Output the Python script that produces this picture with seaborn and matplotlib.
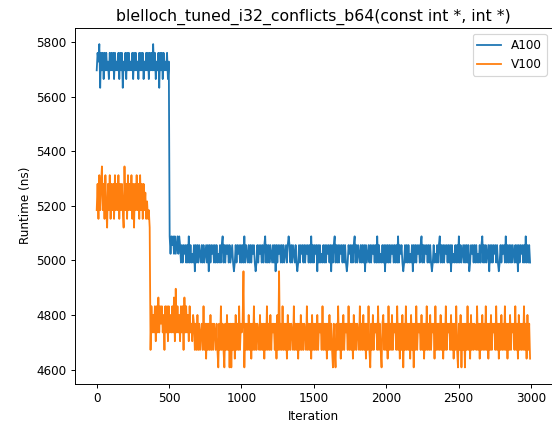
import numpy as np
import pandas as pd
import matplotlib
matplotlib.use("Agg")
import matplotlib.pyplot as plt
import seaborn as sns

title = "blelloch_tuned_i32_conflicts_b64(const int *, int *)"
series_names = ["A100", "V100"]
iterations = list(range(0, 3000, 6))

a100_high = [
    5696, 5760, 5728, 5792, 5632, 5760, 5696, 5760, 5664, 5760, 5696, 5760, 5696, 5728, 5664, 5760, 5696, 5760, 5696, 5760,
    5664, 5760, 5696, 5728, 5696, 5760, 5664, 5760, 5696, 5760, 5632, 5728, 5696, 5760, 5664, 5760, 5696, 5760, 5696, 5728,
    5696, 5760, 5664, 5760, 5696, 5760, 5696, 5728, 5664, 5760, 5696, 5760, 5696, 5760, 5664, 5728, 5696, 5760, 5696, 5760,
    5664, 5760, 5696, 5760, 5696, 5792, 5696, 5760, 5664, 5728, 5696, 5760, 5632, 5760, 5696, 5760, 5664, 5760, 5696, 5728,
    5696, 5760, 5664, 5728,
]
a100_drop = [5088, 5024, 5088, 5056, 5088, 5024, 5088, 5024, 5056, 5088, 5024, 5088, 5056]
a100_low = [
    4992, 5056, 4992, 5056, 5024, 5056, 4992, 5056, 4992, 5088, 4992, 5056, 4992, 5024, 4992, 5056, 4960, 5056, 4992, 5056,
    4992, 5056, 5024, 4992, 5056, 4992, 5056, 4992, 5024, 5056, 4992, 5056, 4960, 5056, 4992, 5056, 5024, 5056, 4992, 5056,
    4992, 5056, 4992, 5024, 4992, 5056, 4992, 5056, 5088, 4992, 5056, 4992, 5056, 5024, 5056, 4992, 5056, 4992, 5024, 5056,
    4992, 4960, 4992, 5056, 4992, 5056, 5024, 5056, 4992, 5056, 4992, 5056, 4992, 5088, 4992, 5056, 5024, 4992, 5056, 4992,
    5056, 4992, 5056, 5024, 5056, 4992, 4960, 4992, 5056, 4992, 5056, 5024, 5056, 4992, 5056, 4992, 5056, 5088, 4992, 5056,
    4992, 5056, 4992, 5056, 5024, 4992, 5056, 4992, 5056, 4960, 5056, 4992, 5056, 5024, 5056, 4992, 5056, 4992, 5056, 4992,
    5024, 5056, 4992, 5056, 5088, 5056, 4992, 5056, 4992, 5056, 5024, 4992, 5056, 4992, 4960, 4992, 5056, 4992, 5056, 5024,
    5056, 4992, 5056, 4992, 5056, 5024, 5056, 4992, 5056, 4992, 5088, 4992, 5056, 4992, 5056, 5024, 5056, 4960, 5056, 4992,
    5056, 4992, 5024, 4992, 5056, 4992, 5056, 4992, 5056, 5024, 5056, 4992, 5056, 4960, 5056, 4992, 5056, 5088, 4992, 5056,
    4992, 5056, 4992, 5056, 5024, 5056, 4992, 5056, 4992, 5056, 4992, 4960, 4992, 5056, 5024, 5056, 4992, 5056, 4992, 5056,
    5088, 4992, 5056, 4992, 5056, 5024, 4992, 5056, 4992, 5056, 4992, 5056, 4960, 5056, 4992, 5024, 5056, 4992, 5056, 4992,
    5056, 5024, 5056, 4992, 5056, 4992, 5088, 4992, 5056, 4992, 5024, 4992, 5056, 4992, 5056, 4960, 5056, 4992, 5056, 4992,
    5056, 4992, 5056, 5024, 5056, 4992, 5056, 4992, 5056, 4992, 5088, 4992, 5056, 5024, 5056, 4992, 4960, 4992, 5056, 4992,
    5056, 4992, 5056, 4992, 5024, 4992, 5056, 4960, 5056, 4992, 5056, 4992, 5056, 5024, 5056, 4992, 5056, 5088, 4992, 5056,
    4992, 5056, 5024, 5056, 4992, 5056, 4992, 5056, 4992, 4960, 4992, 5056, 4992, 5024, 4992, 5056, 4992, 5056, 5088, 4992,
    5056, 4992, 5056, 4992, 5056, 5024, 5056, 4992, 5056, 4992, 5056, 4960, 5056, 4992, 5024, 4992, 5056, 4992, 5056, 4992,
    5088, 4992, 5056, 4992, 5024, 5056, 4992, 5056, 4992, 5056, 4992, 5056, 4960, 4992, 5056, 5024, 5056, 4992, 5056, 4992,
    5056, 4992, 5024, 4992, 5056, 4992, 5056, 5088, 4992, 5056, 4992, 5056, 4992, 5024, 5056, 4960, 5056, 4992, 5056, 4992,
    5056, 5024, 5056, 4992, 5056, 4992, 4960, 4992, 5056, 4992, 5056, 5024, 5056, 4992, 5088, 4992, 5056, 4992, 5056, 4992,
    5056, 4992, 5056, 5024, 4992, 5056, 4992, 5056, 4960, 5056, 4992, 5056, 5024, 5056, 4992, 5056, 4992, 5088, 4992, 5056,
    4992, 5056, 4992,
]

v100_high = [
    5184, 5280, 5152, 5312, 5184, 5280, 5344, 5184, 5280, 5152, 5312, 5184, 5120, 5280, 5184, 5312, 5152, 5280, 5184, 5280,
    5152, 5312, 5184, 5280, 5184, 5312, 5152, 5280, 5184, 5280, 5184, 5120, 5344, 5184, 5280, 5152, 5312, 5184, 5280, 5184,
    5312, 5152, 5280, 5120, 5280, 5184, 5312, 5184, 5280, 5152, 5312, 5184, 5280, 5152, 5280, 5184,
    5248, 5152, 5216, 5152, 5184, 5120,
]
v100_mid = [
    4672,
    4832, 4736, 4800, 4736, 4832, 4704, 4832, 4736, 4864, 4736, 4832, 4768, 4832, 4736, 4800, 4672, 4832, 4736, 4832, 4704,
    4832, 4736, 4800, 4736, 4832, 4736, 4864, 4704, 4896, 4736, 4832, 4736, 4800, 4704, 4832, 4736, 4832, 4672, 4864, 4736,
    4832, 4736, 4800, 4704, 4832, 4736, 4768, 4704, 4800,
]
v100_low = [
    4768, 4672, 4768, 4672, 4800, 4672, 4768, 4672, 4736, 4768, 4672, 4832, 4672, 4768, 4640, 4768, 4672, 4768, 4672, 4800,
    4672, 4768, 4672, 4768, 4736, 4672, 4768, 4672, 4608, 4768, 4672, 4832, 4672, 4768, 4672, 4608, 4768, 4672, 4800, 4672,
    4768, 4608, 4768, 4608, 4768, 4672, 4768, 4640, 4800, 4672, 4768, 4672, 4832, 4672, 4768, 4736, 4768, 4960, 4608, 4768,
    4672, 4768, 4672, 4800, 4672, 4768, 4640, 4768, 4672, 4832, 4672, 4768, 4672, 4768, 4736, 4672, 4800, 4672, 4768, 4672,
    4768, 4640, 4768, 4672, 4832, 4672, 4768, 4672, 4800, 4672, 4768, 4736, 4768, 4672, 4768, 4640, 4800, 4672, 4960, 4672,
    4768, 4672, 4832, 4672, 4768, 4672, 4768, 4640, 4800, 4672, 4768, 4672, 4768, 4736, 4672, 4832, 4672, 4768, 4672, 4768,
    4640, 4768, 4672, 4800, 4672, 4768, 4672, 4768, 4736, 4672, 4832, 4672, 4768, 4672, 4768, 4640, 4800, 4672, 4768, 4672,
    4768, 4672, 4800, 4672, 4768, 4736, 4768, 4672, 4832, 4672, 4768, 4672, 4768, 4640, 4768, 4672, 4800, 4672, 4768, 4672,
    4608, 4768, 4672, 4608, 4768, 4672, 4832, 4672, 4768, 4640, 4768, 4672, 4800, 4672, 4768, 4736, 4768, 4672, 4832, 4672,
    4768, 4672, 4768, 4640, 4800, 4672, 4768, 4672, 4768, 4736, 4672, 4832, 4672, 4768, 4672, 4800, 4672, 4768, 4640, 4768,
    4672, 4832, 4672, 4608, 4768, 4672, 4800, 4672, 4768, 4736, 4768, 4672, 4832, 4672, 4768, 4672, 4608, 4768, 4800, 4672,
    4768, 4672, 4768, 4640, 4832, 4672, 4768, 4672, 4800, 4672, 4768, 4736, 4768, 4672, 4832, 4672, 4768, 4640, 4768, 4672,
    4800, 4608, 4768, 4672, 4832, 4672, 4768, 4672, 4768, 4640, 4800, 4672, 4768, 4608, 4768, 4672, 4832, 4672, 4768, 4736,
    4768, 4672, 4800, 4672, 4768, 4640, 4768, 4672, 4832, 4672, 4768, 4672, 4800, 4672, 4768, 4736, 4768, 4640, 4832, 4672,
    4768, 4672, 4768, 4672, 4800, 4672, 4768, 4640, 4768, 4672, 4832, 4672, 4768, 4736, 4768, 4672, 4800, 4672, 4768, 4640,
    4768, 4672, 4832, 4672, 4608, 4768, 4672, 4800, 4608, 4768, 4672, 4768, 4608, 4768, 4672, 4832, 4672, 4768, 4640, 4800,
    4672, 4768, 4672, 4768, 4736, 4672, 4832, 4672, 4768, 4640, 4768, 4672, 4800, 4672, 4768, 4672, 4832, 4672, 4768, 4640,
    4768, 4672, 4800, 4672, 4768, 4736, 4768, 4672, 4832, 4672, 4768, 4640, 4768, 4672, 4800, 4672, 4768, 4672, 4832, 4672,
    4768, 4640, 4768, 4672, 4800, 4672, 4768, 4736, 4768, 4672, 4832, 4672, 4768, 4640, 4800, 4672, 4768, 4672, 4768, 4672,
    4832, 4672, 4768, 4640, 4800, 4672, 4768, 4640,
]

a100 = a100_high + a100_drop + a100_low
v100 = v100_high + v100_mid + v100_low
n = min(len(iterations), len(a100), len(v100))

df = pd.DataFrame({
    "Iteration": iterations[:n] * 2,
    "Runtime (ns)": a100[:n] + v100[:n],
    "GPU": [series_names[0]] * n + [series_names[1]] * n,
})

dpi = 86.25
fig = plt.figure(figsize=(552 / dpi, 427 / dpi), dpi=dpi)
ax = fig.add_axes([75 / 552, (427 - 383.5) / 427, (552.5 - 75) / 552, (383.5 - 28) / 427])
sns.lineplot(data=df, x="Iteration", y="Runtime (ns)", hue="GPU",
             palette=["#1f77b4", "#ff7f0e"], linewidth=1.5, ax=ax,
             estimator=None, errorbar=None)
ax.set_xlim(-150, 3149)
ax.set_ylim(4549, 5851)
ax.set_xticks([0, 500, 1000, 1500, 2000, 2500, 3000])
ax.set_yticks([4600, 4800, 5000, 5200, 5400, 5600, 5800])
ax.set_title(title, fontsize=13.2)
handles, labels = ax.get_legend_handles_labels()
ax.legend(handles, labels, loc="upper right")
fig.savefig("out.png", dpi=dpi)
